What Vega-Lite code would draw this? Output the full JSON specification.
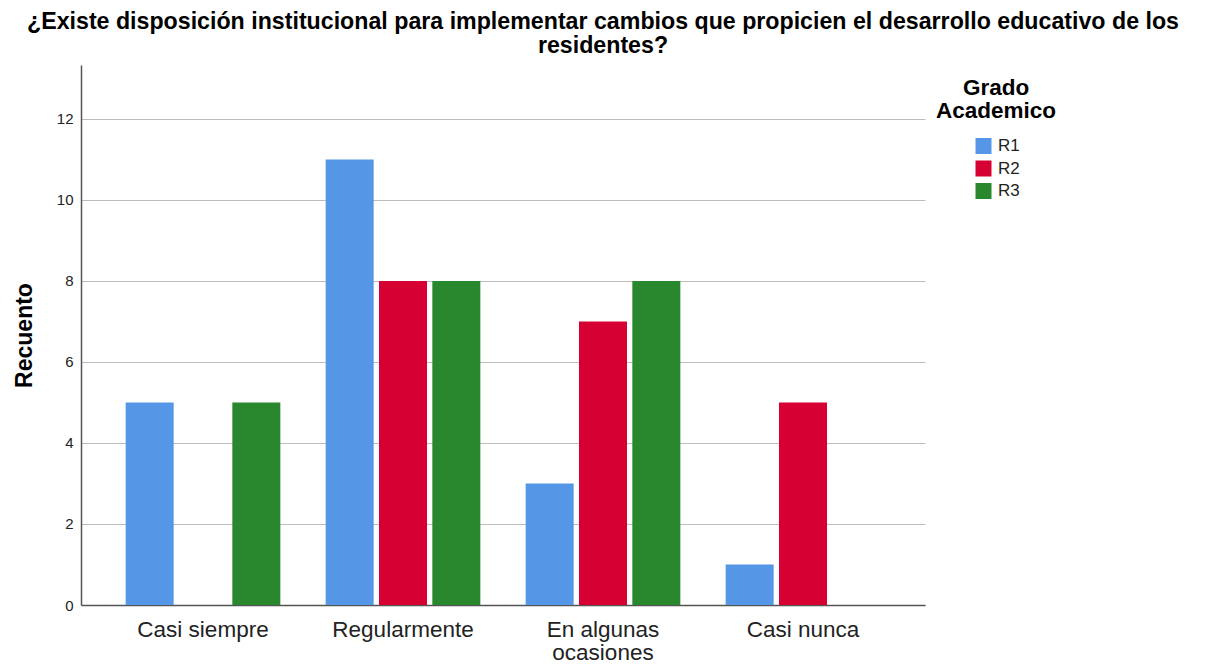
{
  "$schema": "https://vega.github.io/schema/vega-lite/v6.json",
  "width": 844,
  "height": 540,
  "autosize": {"type": "none"},
  "padding": {"left": 81, "top": 65, "right": 282, "bottom": 59},
  "background": "white",
  "title": {
    "text": ["¿Existe disposición institucional para implementar cambios que propicien el desarrollo educativo de los", "residentes?"],
    "font": "Liberation Sans",
    "fontSize": 23.2,
    "fontWeight": "bold",
    "color": "#000000",
    "lineHeight": 23.5,
    "anchor": "middle",
    "frame": "group",
    "dx": 100,
    "offset": 7
  },
  "data": {
    "values": [
      {"categoria": "Casi siempre", "grado": "R1", "recuento": 5},
      {"categoria": "Casi siempre", "grado": "R2", "recuento": 0},
      {"categoria": "Casi siempre", "grado": "R3", "recuento": 5},
      {"categoria": "Regularmente", "grado": "R1", "recuento": 11},
      {"categoria": "Regularmente", "grado": "R2", "recuento": 8},
      {"categoria": "Regularmente", "grado": "R3", "recuento": 8},
      {"categoria": "En algunas ocasiones", "grado": "R1", "recuento": 3},
      {"categoria": "En algunas ocasiones", "grado": "R2", "recuento": 7},
      {"categoria": "En algunas ocasiones", "grado": "R3", "recuento": 8},
      {"categoria": "Casi nunca", "grado": "R1", "recuento": 1},
      {"categoria": "Casi nunca", "grado": "R2", "recuento": 5},
      {"categoria": "Casi nunca", "grado": "R3", "recuento": 0}
    ]
  },
  "mark": {"type": "bar"},
  "encoding": {
    "x": {
      "field": "categoria",
      "type": "nominal",
      "sort": null,
      "scale": {"paddingInner": 0.2, "paddingOuter": 0.21},
      "axis": {
        "title": null,
        "labelAngle": 0,
        "labelFont": "Liberation Sans",
        "labelFontSize": 22.5,
        "labelColor": "#222222",
        "labelPadding": 13,
        "labelLineHeight": 23,
        "labelBaseline": "top",
        "labelExpr": "datum.label == 'En algunas ocasiones' ? ['En algunas', 'ocasiones'] : datum.label",
        "ticks": false,
        "domainColor": "#555555",
        "domainWidth": 1.5,
        "grid": false
      }
    },
    "xOffset": {
      "field": "grado",
      "type": "nominal",
      "scale": {"paddingInner": 0.1, "paddingOuter": 0.05}
    },
    "y": {
      "field": "recuento",
      "type": "quantitative",
      "scale": {"domain": [0, 13.33], "nice": false},
      "axis": {
        "title": "Recuento",
        "titleFont": "Liberation Sans",
        "titleFontSize": 23,
        "titleFontWeight": "bold",
        "titleColor": "#000000",
        "titlePadding": 20,
        "values": [0, 2, 4, 6, 8, 10, 12],
        "labelFont": "Liberation Sans",
        "labelFontSize": 15,
        "labelColor": "#222222",
        "labelPadding": 8,
        "ticks": false,
        "domainColor": "#555555",
        "domainWidth": 1.5,
        "grid": true,
        "gridColor": "#bdbdbd",
        "gridWidth": 1
      }
    },
    "color": {
      "field": "grado",
      "type": "nominal",
      "scale": {"domain": ["R1", "R2", "R3"], "range": ["#5597E6", "#D60032", "#29882D"]},
      "legend": {
        "title": ["Grado", "Academico"],
        "orient": "none",
        "legendX": 855,
        "legendY": 12,
        "titleFont": "Liberation Sans",
        "titleFontSize": 22.5,
        "titleFontWeight": "bold",
        "titleColor": "#000000",
        "titleLineHeight": 23,
        "titleAnchor": "middle",
        "titleAlign": "center",
        "titlePadding": 15,
        "symbolType": "square",
        "symbolSize": 256,
        "symbolStrokeWidth": 0,
        "symbolOffset": 2,
        "rowPadding": 4.5,
        "labelFont": "Liberation Sans",
        "labelFontSize": 17,
        "labelColor": "#222222",
        "labelOffset": 6
      }
    }
  },
  "config": {
    "view": {"stroke": null}
  }
}
